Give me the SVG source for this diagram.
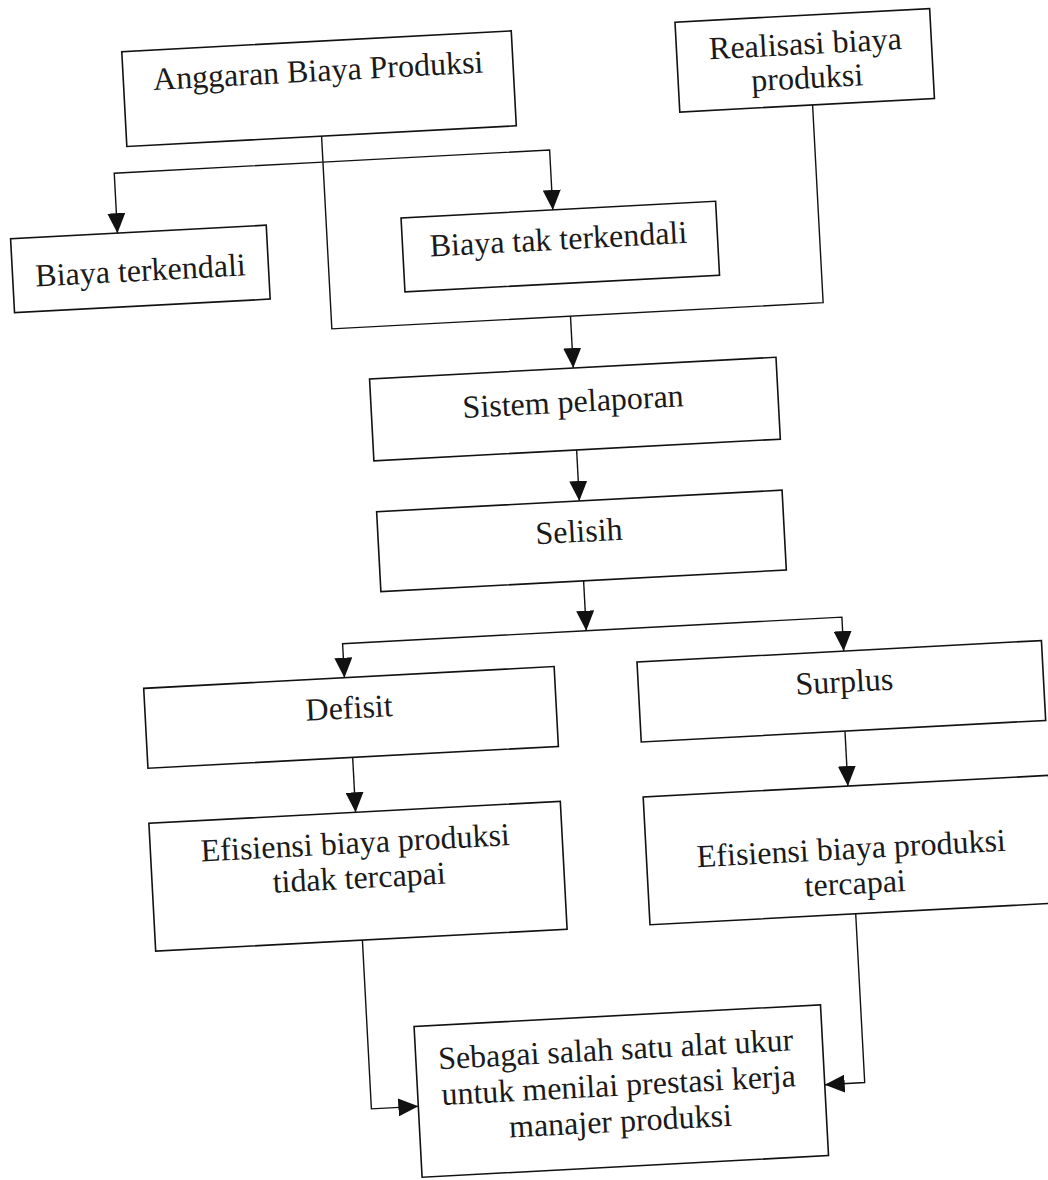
<svg xmlns="http://www.w3.org/2000/svg" width="1048" height="1180" viewBox="0 0 1048 1180">
<style>
.box{fill:#fff;stroke:#111;stroke-width:1.6}
.lbl{font-family:"Liberation Serif","Times New Roman",serif;font-size:32px;fill:#1a1a1a;text-anchor:middle}
.con{fill:none;stroke:#111;stroke-width:1.4}
</style>
<defs>
<marker id="ah" markerUnits="userSpaceOnUse" markerWidth="20" markerHeight="18" refX="20" refY="9" orient="auto" viewBox="0 0 20 18">
<path d="M0,0 L20,9 L0,18 z" fill="#111"/>
</marker>
</defs>
<rect x="0" y="0" width="1048" height="1180" fill="#fff"/>
<g transform="rotate(-3.05 524 590)">
<g id="connectors">
<path class="con" d="M346,126 V319 H838 V121"/>
<path class="con" d="M346,152 H137 V212" marker-end="url(#ah)"/>
<path class="con" d="M346,152 H573 V212" marker-end="url(#ah)"/>
<path class="con" d="M585,319 V371" marker-end="url(#ah)"/>
<path class="con" d="M584,453 V504" marker-end="url(#ah)"/>
<path class="con" d="M584,584 V634" marker-end="url(#ah)"/>
<path class="con" d="M584,634 H340 V668" marker-end="url(#ah)"/>
<path class="con" d="M584,634 H840 V668" marker-end="url(#ah)"/>
<path class="con" d="M344,748 V803" marker-end="url(#ah)"/>
<path class="con" d="M837,748 V803" marker-end="url(#ah)"/>
<path class="con" d="M344,931 V1100 H391" marker-end="url(#ah)"/>
<path class="con" d="M838,931 V1100 H798" marker-end="url(#ah)"/>
</g>
<g id="anggaran">
<rect class="box" x="151" y="31" width="390" height="95"/>
<text class="lbl" x="346" y="71">Anggaran Biaya Produksi</text>
</g>
<g id="realisasi">
<rect class="box" x="705" y="31" width="255" height="90"/>
<text class="lbl" x="834" y="70">Realisasi biaya</text>
<text class="lbl" x="834" y="104">produksi</text>
</g>
<g id="biaya-terkendali">
<rect class="box" x="30" y="212" width="256" height="74"/>
<text class="lbl" x="158" y="261">Biaya terkendali</text>
</g>
<g id="biaya-tak-terkendali">
<rect class="box" x="421" y="212" width="315" height="74"/>
<text class="lbl" x="577" y="252">Biaya tak terkendali</text>
</g>
<g id="sistem-pelaporan">
<rect class="box" x="381" y="371" width="407" height="82"/>
<text class="lbl" x="583" y="415">Sistem pelaporan</text>
</g>
<g id="selisih">
<rect class="box" x="381" y="504" width="406" height="80"/>
<text class="lbl" x="582" y="545">Selisih</text>
</g>
<g id="defisit">
<rect class="box" x="139" y="668" width="411" height="80"/>
<text class="lbl" x="343" y="709">Defisit</text>
</g>
<g id="surplus">
<rect class="box" x="633" y="668" width="405" height="80"/>
<text class="lbl" x="839" y="709">Surplus</text>
</g>
<g id="efisiensi-tidak">
<rect class="box" x="137" y="803" width="412" height="128"/>
<text class="lbl" x="342" y="844">Efisiensi biaya produksi</text>
<text class="lbl" x="344" y="879">tidak tercapai</text>
</g>
<g id="efisiensi-tercapai">
<rect class="box" x="632" y="803" width="406" height="128"/>
<text class="lbl" x="837" y="876">Efisiensi biaya produksi</text>
<text class="lbl" x="839" y="911">tercapai</text>
</g>
<g id="alat-ukur">
<rect class="box" x="391" y="1020" width="407" height="151"/>
<text class="lbl" x="591" y="1064">Sebagai salah satu alat ukur</text>
<text class="lbl" x="592" y="1100">untuk menilai prestasi kerja</text>
<text class="lbl" x="592" y="1136">manajer produksi</text>
</g>
</g>
</svg>
